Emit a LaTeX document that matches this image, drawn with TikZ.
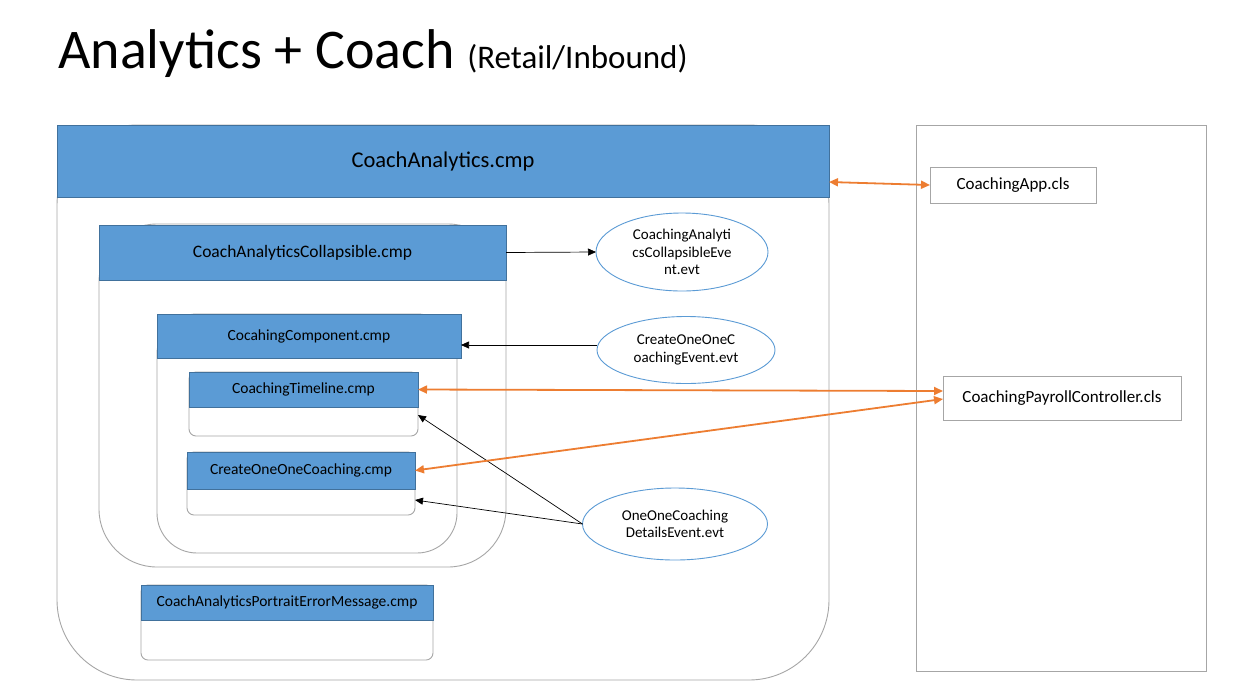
\documentclass[tikz,border=0pt]{standalone}
\usepackage{fontspec}
\setmainfont{Carlito}
\usetikzlibrary{arrows.meta,shapes.geometric}
\definecolor{hdrblue}{HTML}{5B9BD5}
\definecolor{hdrline}{HTML}{41719C}
\definecolor{framegray}{HTML}{A6A6A6}
\definecolor{linkorange}{HTML}{ED7D31}
\begin{document}
\begin{tikzpicture}[x=1pt,y=-1pt,
    frame/.style={draw=framegray, line width=0.9pt, fill=white, inner sep=0pt, outer sep=0pt, anchor=north west},
    hdr/.style={draw=hdrline, line width=0.9pt, fill=hdrblue, inner sep=0pt, outer sep=0pt, anchor=north west,
      font=\fontsize{15.5}{18}\selectfont},
    evt/.style={draw=hdrblue, line width=0.9pt, ellipse, inner sep=0pt, outer sep=0pt, align=center,
      font=\fontsize{15}{17.5}\selectfont},
    cls/.style={draw=framegray, line width=0.9pt, inner sep=0pt, outer sep=0pt, anchor=north west,
      font=\fontsize{17}{19}\selectfont},
    link/.style={-{Triangle[length=8pt,width=7pt]}, line width=0.7pt, black},
    duo/.style={{Triangle[length=9pt,width=8pt]}-{Triangle[length=9pt,width=8pt]}, line width=1.8pt, linkorange}]
  \useasboundingbox (0,0) rectangle (1236,689);
  % title
  \node[anchor=base west, inner sep=0pt] (title) at (58,68)
    {\fontsize{56}{60}\selectfont Analytics + Coach {\fontsize{33}{36}\selectfont(Retail/Inbound)}};
  % component frames
  \node[frame, rounded corners=80pt, minimum width=772pt, minimum height=555pt] (mainbox) at (57,125) {};
  \node[frame, rounded corners=58pt, minimum width=407pt, minimum height=343pt] (colbox) at (99,224) {};
  \node[frame, rounded corners=40pt, minimum width=300pt, minimum height=239pt] (compbox) at (157,314) {};
  \node[frame, rounded corners=7pt, minimum width=229pt, minimum height=64pt] (tlbox) at (189,372) {};
  \node[frame, rounded corners=7pt, minimum width=228pt, minimum height=63pt] (crbox) at (187,452) {};
  \node[frame, rounded corners=7pt, minimum width=292pt, minimum height=75pt] (errbox) at (141,585) {};
  % component headers
  \node[hdr, minimum width=772pt, minimum height=72pt, font=\fontsize{22.5}{26}\selectfont] (mainhdr) at (57,125) {CoachAnalytics.cmp};
  \node[hdr, minimum width=407pt, minimum height=55pt, font=\fontsize{17.5}{20}\selectfont] (colhdr) at (99,225) {CoachAnalyticsCollapsible.cmp};
  \node[hdr, minimum width=304pt, minimum height=44pt] (comphdr) at (157,314) {CocahingComponent.cmp};
  \node[hdr, minimum width=229pt, minimum height=35pt] (tlhdr) at (189,372) {CoachingTimeline.cmp};
  \node[hdr, minimum width=228pt, minimum height=37pt] (crhdr) at (187,452) {CreateOneOneCoaching.cmp};
  \node[hdr, minimum width=292pt, minimum height=35pt] (errhdr) at (141,585) {CoachAnalyticsPortraitErrorMessage.cmp};
  % events
  \node[evt, minimum width=172pt, minimum height=78pt] (e1) at (682,252) {CoachingAnalyti\\csCollapsibleEve\\nt.evt};
  \node[evt, minimum width=178pt, minimum height=67pt] (e2) at (686,350) {CreateOneOneC\\oachingEvent.evt};
  \node[evt, minimum width=185pt, minimum height=72pt] (e3) at (675,524) {OneOneCoaching\\DetailsEvent.evt};
  % apex classes
  \node[frame, minimum width=290pt, minimum height=546pt] (apexbox) at (916,125) {};
  \node[cls, minimum width=166pt, minimum height=36pt] (app) at (930,167) {CoachingApp.cls};
  \node[cls, minimum width=238pt, minimum height=44pt] (pay) at (943,376) {CoachingPayrollController.cls};
  % connectors
  \draw[link] (colhdr.east) -- (e1.west);
  \draw[link] ([yshift=5pt]e2.west) -- ([yshift=-9pt]comphdr.east);
  \draw[link] (e3.west) -- ([yshift=21pt]tlbox.south east);
  \draw[link] (e3.west) -- ([yshift=15pt]crbox.south east);
  \draw[duo] ([yshift=-21pt]mainhdr.east) -- (app.west);
  \draw[duo] (tlhdr.east) -- ([yshift=7pt]pay.west);
  \draw[duo] (crhdr.east) -- ([yshift=-1pt]pay.west);
\end{tikzpicture}
\end{document}
